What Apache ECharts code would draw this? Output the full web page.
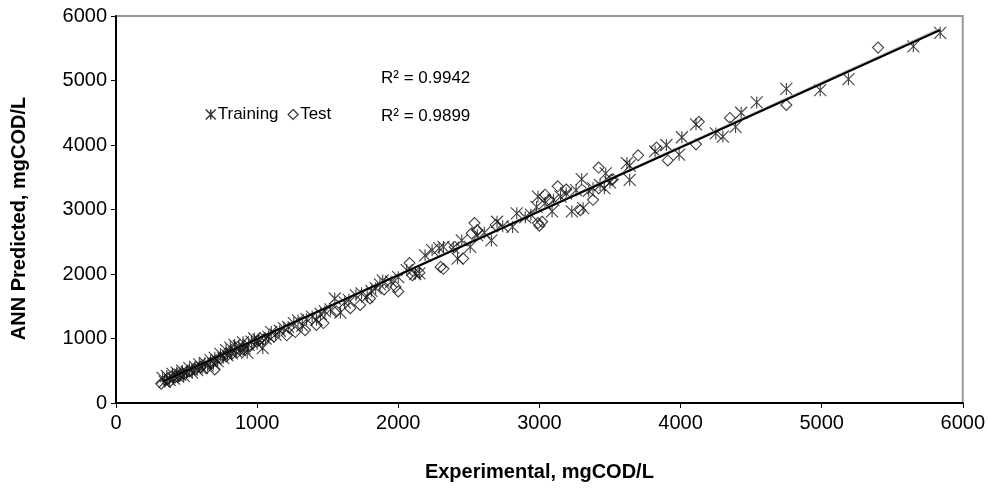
<!DOCTYPE html>
<html>
<head>
<meta charset="utf-8">
<script src="https://cdn.jsdelivr.net/npm/echarts@6/dist/echarts.min.js"></script>
<style>html,body{margin:0;padding:0;background:#fff}#c{width:988px;height:496px}</style>
</head>
<body>
<div id="c"></div>
<script>
const xTicks = [0, 1000, 2000, 3000, 4000, 5000, 6000];
const yTicks = [0, 1000, 2000, 3000, 4000, 5000, 6000];

const training = [
[330,390],[345,330],[360,420],[380,360],[400,450],[410,380],[430,470],[440,410],[455,440],[470,500],[480,420],[500,480],[520,540],[540,470],[560,560],[575,510],[590,600],[610,540],[630,620],[650,580],[670,660],[690,610],[700,700],[720,650],[740,760],[760,700],[780,820],[790,740],[810,860],[820,770],[840,900],[850,800],[870,880],[880,820],[900,940],[910,850],[930,780],[940,900],[960,950],[980,1000],[1000,920],[1010,980],[1040,850],[1060,1000],[1080,1030],[1100,1100],[1130,1060],[1160,1120],[1190,1160],[1220,1180],[1260,1240],[1290,1280],[1320,1200],[1350,1300],[1390,1340],[1420,1290],[1450,1380],[1480,1420],[1520,1450],[1550,1620],[1590,1400],[1620,1560],[1650,1600],[1700,1670],[1740,1700],[1780,1650],[1810,1740],[1840,1780],[1870,1840],[1890,1900],[1950,1880],[2000,1950],[2060,2060],[2120,2000],[2150,2010],[2190,2290],[2240,2370],[2290,2400],[2320,2420],[2390,2410],[2420,2240],[2450,2520],[2510,2420],[2560,2600],[2610,2640],[2660,2520],[2700,2810],[2740,2740],[2810,2730],[2840,2940],[2900,2880],[2940,2920],[2980,3040],[2990,3200],[3040,3100],[3090,2970],[3100,3150],[3150,3200],[3190,3250],[3230,2970],[3260,3300],[3300,3470],[3310,3020],[3350,3290],[3380,3330],[3430,3380],[3460,3330],[3470,3560],[3500,3420],[3620,3720],[3640,3680],[3640,3460],[3820,3900],[3900,4000],[3990,3850],[4010,4120],[4110,4320],[4250,4180],[4300,4130],[4390,4280],[4430,4500],[4540,4660],[4750,4870],[4990,4850],[5190,5020],[5650,5530],[5840,5740]
];

const test = [
[320,300],[350,350],[380,330],[420,400],[450,420],[480,450],[520,490],[560,520],[600,560],[640,540],[680,620],[700,520],[740,690],[780,720],[820,760],[860,790],[900,830],[950,880],[1010,970],[1050,990],[1120,1030],[1210,1050],[1270,1100],[1340,1130],[1420,1210],[1470,1240],[1560,1420],[1660,1470],[1730,1520],[1800,1620],[1900,1760],[1980,1800],[2000,1730],[2080,2170],[2100,1980],[2150,2020],[2300,2110],[2320,2080],[2400,2420],[2460,2240],[2520,2630],[2540,2790],[2560,2680],[2690,2760],[2990,2790],[3000,2750],[3020,2810],[3040,3230],[3070,3150],[3130,3360],[3190,3310],[3290,2990],[3380,3150],[3420,3650],[3510,3460],[3520,3470],[3700,3840],[3830,3960],[3910,3760],[4110,4010],[4130,4360],[4350,4420],[4750,4620],[5400,5510]
];

const trainingFit = [[330,330],[5840,5783]];
const testFit = [[320,315],[5840,5805]];

const r2Labels = ['R\u00B2 = 0.9942', 'R\u00B2 = 0.9899'];

const starPath = 'path://M5,0L5,10M0,0L10,10M10,0L0,10';
const font = '"Liberation Sans", Arial, sans-serif';

const chart = echarts.init(document.getElementById('c'));
chart.setOption({
  animation: false,
  backgroundColor: '#fff',
  grid: {left: 116, right: 25, top: 16, bottom: 93, show: true, borderColor: '#999', borderWidth: 2, backgroundColor: 'transparent'},
  legend: {
    left: 200, top: 101, itemWidth: 10, itemHeight: 10, itemGap: 9,
    textStyle: {fontFamily: font, fontSize: 17, color: '#000', padding: [0,0,0,-3]},
    data: [
      {name: 'Training', icon: starPath, itemStyle: {color: 'rgba(0,0,0,0)', borderColor: '#000', borderWidth: 1.5}},
      {name: 'Test', icon: 'diamond', itemStyle: {color: 'rgba(0,0,0,0)', borderColor: '#000', borderWidth: 1.2}}
    ]
  },
  xAxis: {
    type: 'value', min: xTicks[0], max: xTicks[xTicks.length-1], interval: 1000,
    name: 'Experimental, mgCOD/L', nameLocation: 'middle', nameGap: 59,
    nameTextStyle: {fontFamily: font, fontSize: 20, fontWeight: 'bold', color: '#000'},
    axisLine: {lineStyle: {color: '#000', width: 2}},
    axisTick: {show: true, length: 5, lineStyle: {color: '#000'}},
    axisLabel: {fontFamily: font, fontSize: 20, color: '#000', margin: 10, formatter: v => String(v)},
    splitLine: {show: false}
  },
  yAxis: {
    type: 'value', min: yTicks[0], max: yTicks[yTicks.length-1], interval: 1000,
    name: 'ANN Predicted, mgCOD/L', nameLocation: 'middle', nameGap: 87,
    nameTextStyle: {fontFamily: font, fontSize: 20, fontWeight: 'bold', color: '#000', padding: [0, 18, 0, 0]},
    axisLine: {show: true, lineStyle: {color: '#000', width: 2}},
    axisTick: {show: true, length: 5, lineStyle: {color: '#000'}},
    axisLabel: {fontFamily: font, fontSize: 20, color: '#000', margin: 9, formatter: v => String(v)},
    splitLine: {show: false}
  },
  graphic: [
    {type: 'text', left: 381, top: 70, style: {text: r2Labels[0], font: '17px ' + font, fill: '#000'}},
    {type: 'text', left: 381, top: 108, style: {text: r2Labels[1], font: '17px ' + font, fill: '#000'}}
  ],
  series: [
    {name: 'Training', type: 'scatter', data: training, symbol: starPath, symbolSize: 12,
     itemStyle: {color: 'rgba(0,0,0,0)', borderColor: '#111', borderWidth: 1.1}, z: 2},
    {name: 'Test', type: 'scatter', data: test, symbol: 'diamond', symbolSize: 11,
     itemStyle: {color: 'rgba(0,0,0,0)', borderColor: '#111', borderWidth: 1.1}, z: 2},
    {name: 'TestFit', type: 'line', data: testFit, symbol: 'none', lineStyle: {color: '#bbb', width: 2}, z: 3},
    {name: 'TrainingFit', type: 'line', data: trainingFit, symbol: 'none', lineStyle: {color: '#000', width: 2}, z: 4}
  ]
});
</script>
</body>
</html>
